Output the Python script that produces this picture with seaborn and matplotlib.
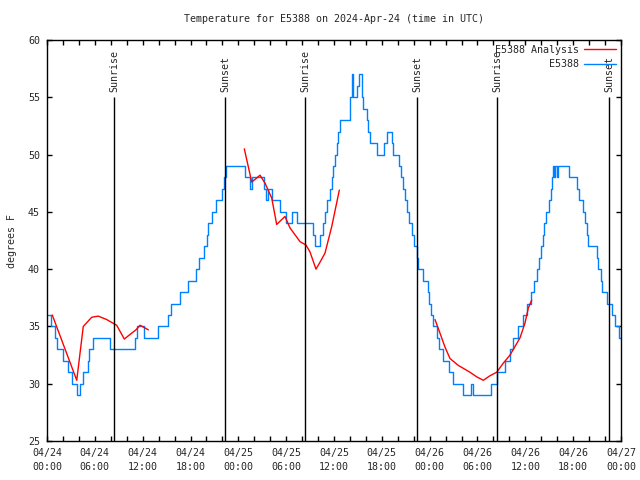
import numpy as np
import pandas as pd
import matplotlib.pyplot as plt
from matplotlib.lines import Line2D
import seaborn as sns

# station observations (hours since 04/24 00:00 UTC, deg F) - value changes
obs_hours = [0.1, 0.55, 1.05, 1.25, 2.0, 2.65, 3.1, 3.8, 4.15, 4.55, 5.1, 5.3, 5.8, 7.9,
             11.05, 11.25, 12.2, 13.95, 15.15, 15.55, 16.7, 17.7, 18.65, 19.05, 19.7,
             20.05, 20.15, 20.65, 21.2, 21.9, 22.2, 22.45, 24.8, 25.45, 25.7, 27.2, 27.45,
             27.7, 28.2, 29.2, 29.95, 30.7, 31.3, 33.4, 33.6, 34.25, 34.6, 34.85, 35.1,
             35.5, 35.7, 35.9, 36.15, 36.35, 36.55, 36.75, 37.8, 38.0, 38.22, 38.38, 38.85,
             39.17, 39.48, 39.68, 40.1, 40.3, 40.52, 41.43, 42.31, 42.69, 43.24, 43.44,
             44.19, 44.41, 44.69, 44.91, 45.12, 45.45, 45.75, 46.04, 46.37, 46.57, 47.2,
             47.75, 47.95, 48.17, 48.46, 48.96, 49.21, 49.71, 50.46, 50.97, 52.22, 53.15,
             53.4, 55.7, 56.41, 57.45, 58.08, 58.49, 59.12, 59.75, 60.17, 60.71, 61.13,
             61.46, 61.75, 61.97, 62.18, 62.38, 62.59, 62.93, 63.22, 63.39, 63.51, 63.64,
             63.76, 63.94, 64.06, 65.52, 66.52, 66.73, 67.27, 67.49, 67.7, 67.9, 68.95,
             69.17, 69.45, 69.57, 70.2, 70.83, 71.25, 71.79, 72.0]
obs_temps = [36, 35, 34, 33, 32, 31, 30, 29, 30, 31, 32, 33, 34, 33,
             34, 35, 34, 35, 36, 37, 38, 39, 40, 41, 42,
             43, 44, 45, 46, 47, 48, 49, 48, 47, 48, 47, 46,
             47, 46, 45, 44, 45, 44, 43, 42, 43, 44, 45, 46,
             47, 48, 49, 50, 51, 52, 53, 53, 55, 57, 55, 56,
             57, 55, 54, 53, 52, 51, 50, 51, 52, 51, 50,
             49, 48, 47, 46, 45, 44, 43, 42, 41, 40, 39,
             38, 37, 36, 35, 34, 33, 32, 31, 30, 29, 30,
             29, 30, 31, 32, 33, 34, 35, 36, 37, 38, 39,
             40, 41, 42, 43, 44, 45, 46, 47, 48, 49, 48,
             49, 48, 49, 48, 47, 46, 45, 44, 43, 42, 41,
             40, 39, 38, 37, 36, 35, 34, 34]

# analysis series, three separate runs
ana_hours = [0.66, 3.73, 4.55, 5.61, 6.43, 7.49, 8.74, 9.70, 10.41, 11.16, 11.67, 12.21, 12.71,
             24.75, 25.68, 26.72, 27.35, 28.19, 28.81, 29.85, 30.48, 31.74, 32.49, 32.99,
             33.74, 34.24, 34.87, 35.71, 36.67,
             48.67, 49.30, 49.92, 50.55, 51.59, 53.06, 53.9, 54.73, 55.57, 56.41, 57.24,
             58.08, 59.33, 59.96, 60.37, 60.80]
ana_temps = [36.0, 30.3, 35.0, 35.8, 35.9, 35.6, 35.1, 33.9, 34.3, 34.7, 35.1, 34.9, 34.7,
             50.5, 47.6, 48.2, 47.5, 46.2, 43.9, 44.6, 43.6, 42.4, 42.1, 41.5,
             40.0, 40.6, 41.4, 43.7, 46.9,
             35.6, 34.4, 33.2, 32.2, 31.6, 31.0, 30.6, 30.3, 30.7, 31.0, 31.8,
             32.5, 34.0, 35.3, 36.6, 37.3]
ana_run = [1] * 13 + [2] * 16 + [3] * 16

sun_hours = [8.40, 22.33, 32.36, 46.41, 56.45, 70.50]
sun_labels = ['Sunrise', 'Sunset', 'Sunrise', 'Sunset', 'Sunrise', 'Sunset']

tick_hours = list(range(0, 73, 6))
tick_labels = ['04/24\n00:00', '04/24\n06:00', '04/24\n12:00', '04/24\n18:00',
               '04/25\n00:00', '04/25\n06:00', '04/25\n12:00', '04/25\n18:00',
               '04/26\n00:00', '04/26\n06:00', '04/26\n12:00', '04/26\n18:00',
               '04/27\n00:00']

sns.set_style('ticks')
plt.rcParams['font.family'] = ['DejaVu Sans Mono']
plt.rcParams['font.size'] = 7.2

blue = '#0080ff'
fig = plt.figure(figsize=(6.4, 4.8), dpi=100)
ax = fig.add_axes([47 / 640, 39 / 480, 574 / 640, 401 / 480])

obs = pd.DataFrame({'hour': obs_hours, 'temp': obs_temps})
sns.lineplot(data=obs, x='hour', y='temp', color=blue, lw=1, drawstyle='steps-post',
             estimator=None, errorbar=None, ax=ax)

ana = pd.DataFrame({'hour': ana_hours, 'temp': ana_temps, 'run': ana_run})
sns.lineplot(data=ana, x='hour', y='temp', units='run', estimator=None, errorbar=None,
             color='red', lw=1, ax=ax)

ax.vlines(sun_hours, 25, 55, color='black', lw=1)
for h, lab in zip(sun_hours, sun_labels):
    ax.text(h + 0.1, 55.5, lab, rotation=90, ha='center', va='bottom')

ax.set_xlim(0, 72)
ax.set_ylim(25, 60)
ax.set_xticks(tick_hours)
ax.set_xticklabels(tick_labels)
for lbl in ax.get_xticklabels():
    lbl.set_linespacing(1.5)
ax.set_xticks(list(range(0, 73, 2)), minor=True)
ax.set_yticks(range(25, 61, 5))
ax.tick_params(which='both', direction='in', length=3.5, width=1, color='black',
               top=True, right=True, labelsize=7.2)
ax.tick_params(axis='x', pad=5)
ax.tick_params(axis='y', pad=5)
for s in ax.spines.values():
    s.set_visible(True)
    s.set_color('black')
    s.set_linewidth(1)

ax.set_xlabel('')
ax.set_ylabel('degrees F', fontsize=7.2, labelpad=8)
ax.set_title('Temperature for E5388 on 2024-Apr-24 (time in UTC)', fontsize=7.2, pad=13)

handles = [Line2D([], [], color='red', lw=1), Line2D([], [], color=blue, lw=1)]
ax.legend(handles, ['E5388 Analysis', 'E5388'], loc='upper right', markerfirst=False,
          frameon=False, fontsize=7.2, handlelength=3.2, handletextpad=0.5,
          borderpad=0, borderaxespad=0.5, labelspacing=0.45)

fig.savefig('out.png', dpi=100)
